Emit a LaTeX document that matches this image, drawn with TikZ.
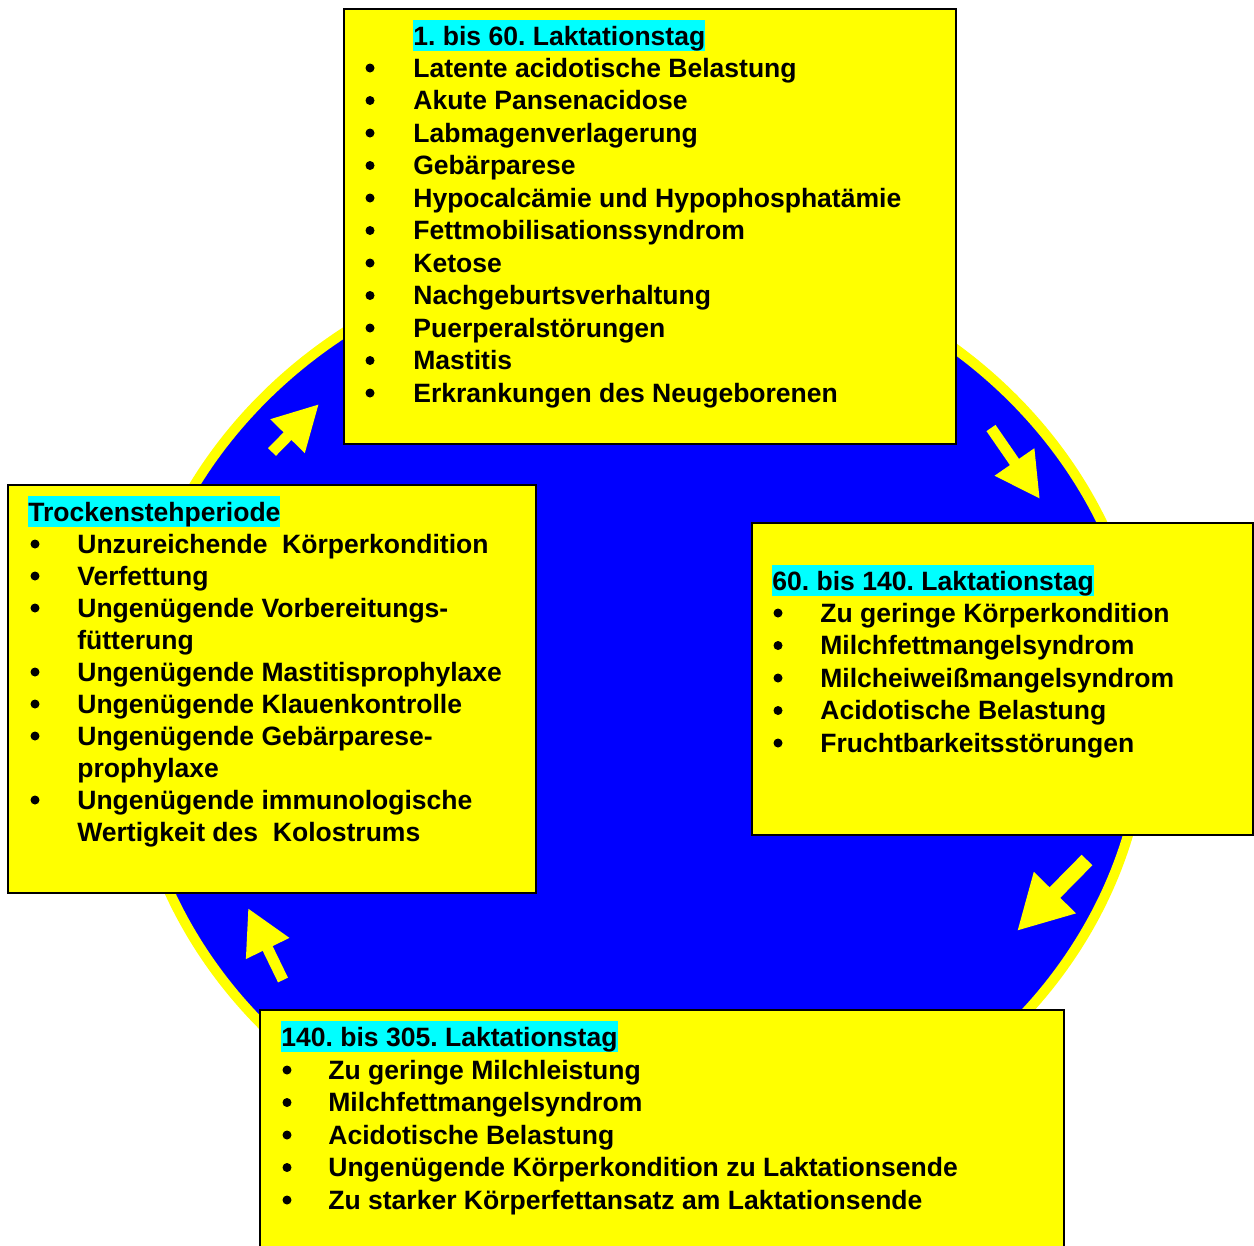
\documentclass[tikz,border=0pt]{standalone}
\usepackage{fontspec}
\setmainfont{Liberation Sans}
\usetikzlibrary{arrows.meta}
\definecolor{boxyellow}{RGB}{255,255,0}
\definecolor{markcyan}{RGB}{0,255,255}
\definecolor{discblue}{RGB}{0,0,255}
\frenchspacing

\tikzset{
  box/.style={draw=black, line width=1.1pt, fill=boxyellow},
  txt/.style={anchor=base west, inner sep=0pt, font=\bfseries\fontsize{15.1}{18.4}\selectfont},
  head/.style={txt, fill=markcyan, text height=0.5cm, text depth=0.12cm},
  dot/.style={fill=black},
  cyclearrow/.style={draw=boxyellow, line width=0.22cm, -{Triangle[length=0.9cm,width=0.9cm]}}
}

\begin{document}
\begin{tikzpicture}[x=0.02cm, y=-0.02cm]
\clip (0,0) rectangle (1254,1245);
%the cycle
\draw[boxyellow, fill=discblue, line width=0.2cm] (638,712) ellipse [x radius=508, y radius=465];
%arrows round the cycle
\draw[cyclearrow] (272,452) -- (319,404);
\draw[cyclearrow] (991,428) -- (1040,499);
\draw[cyclearrow, line width=0.3cm, -{Triangle[length=1.08cm,width=1.1cm]}] (1087,860) -- (1017,931);
\draw[cyclearrow] (283,980) -- (248,908);

%boxes
\draw[box] (344,9) rectangle (956,444);
\draw[box] (8,485) rectangle (536,893);
\draw[box] (752,523) rectangle (1253,835);
\draw[box] (260,1010) rectangle (1064,1260);

%1. bis 60.
\node[head] (h1) at (413,45) {1. bis 60. Laktationstag};
\foreach \t [count=\i] in {Latente acidotische Belastung, Akute Pansenacidose,
  Labmagenverlagerung, Gebärparese, Hypocalcämie und Hypophosphatämie,
  Fettmobilisationssyndrom, Ketose, Nachgeburtsverhaltung, Puerperalstörungen,
  Mastitis, Erkrankungen des Neugeborenen}{
  \fill[dot] (370,{68+32.5*(\i-1)}) circle (4.5);
  \node[txt] (a\i) at (413,{77+32.5*(\i-1)}) {\t};
}

%Trockenstehperiode
\node[head] (h2) at (28,521) {Trockenstehperiode};
\foreach \t/\b [count=\i] in {Unzureichende\ \ Körperkondition/1, Verfettung/1,
  Ungenügende Vorbereitungs-/1, fütterung/0, Ungenügende Mastitisprophylaxe/1,
  Ungenügende Klauenkontrolle/1, Ungenügende Gebärparese-/1, prophylaxe/0,
  Ungenügende immunologische/1, Wertigkeit des\ \ Kolostrums/0}{
  \ifnum\b=1 \fill[dot] (35,{544+32*(\i-1)}) circle (4.5); \fi
  \node[txt] (b\i) at (77,{553+32*(\i-1)}) {\t};
}

%60. bis 140.
\node[head] (h3) at (772,590) {60. bis 140. Laktationstag};
\foreach \t [count=\i] in {Zu geringe Körperkondition, Milchfettmangelsyndrom,
  Milcheiweißmangelsyndrom, Acidotische Belastung, Fruchtbarkeitsstörungen}{
  \fill[dot] (778,{613+32.5*(\i-1)}) circle (4.5);
  \node[txt] (c\i) at (820,{622+32.5*(\i-1)}) {\t};
}

%140. bis 305.
\node[head] (h4) at (281,1046) {140. bis 305. Laktationstag};
\foreach \t [count=\i] in {Zu geringe Milchleistung, Milchfettmangelsyndrom,
  Acidotische Belastung, Ungenügende Körperkondition zu Laktationsende,
  Zu starker Körperfettansatz am Laktationsende}{
  \fill[dot] (287,{1070+32.5*(\i-1)}) circle (4.5);
  \node[txt] (d\i) at (328,{1079+32.5*(\i-1)}) {\t};
}
\end{tikzpicture}
\end{document}
